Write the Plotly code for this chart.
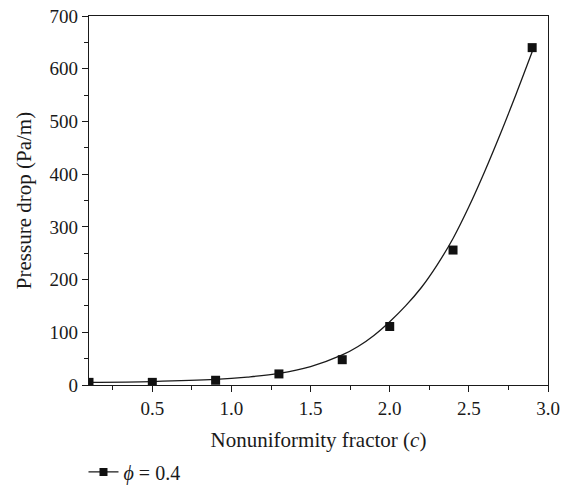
import plotly.graph_objects as go

# Measured data points
c_points = [0.1, 0.5, 0.9, 1.3, 1.7, 2.0, 2.4, 2.9]
dp_points = [5, 5, 9, 21, 48, 111, 256, 640]

# Fitted curve
c_fit = [0.1, 0.5, 0.9, 1.1, 1.3, 1.5, 1.7, 1.8, 1.9, 2.0, 2.1, 2.2, 2.3, 2.4, 2.5, 2.6, 2.7, 2.8, 2.9]
dp_fit = [5, 6.5, 10.5, 15, 22, 35, 57, 73, 94, 120, 150, 185, 228, 278, 338, 405, 477, 553, 632]

x_ticks = [0.5, 1.0, 1.5, 2.0, 2.5, 3.0]
y_ticks = [0, 100, 200, 300, 400, 500, 600, 700]

FONT = "Liberation Serif, DejaVu Serif, serif"
INK = "#1a1a1a"

fig = go.Figure()
fig.add_trace(go.Scatter(x=c_fit, y=dp_fit, mode="lines", line=dict(color=INK, width=1.3, shape="spline", smoothing=1.0),
                         showlegend=False, hoverinfo="skip"))
fig.add_trace(go.Scatter(x=c_points, y=dp_points, mode="markers",
                         marker=dict(symbol="square", size=9, color="#111111"), showlegend=False))
fig.add_trace(go.Scatter(x=[None], y=[None], mode="lines+markers", name="<i>ϕ</i> = 0.4",
                         line=dict(color=INK, width=1.3), marker=dict(symbol="square", size=8, color="#111111")))

fig.update_layout(
    width=570, height=487,
    margin=dict(l=89, r=22, t=16, b=102, autoexpand=False),
    paper_bgcolor="white", plot_bgcolor="white",
    font=dict(family=FONT, size=19, color=INK),
    legend=dict(orientation="h", x=-0.012, xanchor="left", yref="container", y=0.031, yanchor="middle",
                font=dict(family=FONT, size=20, color=INK), itemwidth=30, bgcolor="rgba(0,0,0,0)"),
)
fig.update_xaxes(
    range=[0.1, 3.0], tickvals=x_ticks, ticktext=[f"{v:.1f}" for v in x_ticks],
    showgrid=False, zeroline=False, showline=True, linecolor=INK, linewidth=1.3, mirror=True,
    ticks="outside", ticklen=6, tickwidth=1.2, tickcolor=INK,
    minor=dict(dtick=0.25, tick0=0, ticks="outside", ticklen=4, tickwidth=1.1, tickcolor=INK),
    title=dict(text="Nonuniformity fractor (<i>c</i>)", standoff=14, font=dict(size=21)),
    tickfont=dict(size=19),
)
fig.update_yaxes(
    range=[0, 700], tickvals=y_ticks,
    showgrid=False, zeroline=False, showline=True, linecolor=INK, linewidth=1.3, mirror=True,
    ticks="outside", ticklen=6, tickwidth=1.2, tickcolor=INK,
    minor=dict(dtick=50, ticks="outside", ticklen=4, tickwidth=1.1, tickcolor=INK),
    title=dict(text="Pressure drop (Pa/m)", standoff=12, font=dict(size=21)),
    tickfont=dict(size=19),
)

fig.write_html("out.html")
